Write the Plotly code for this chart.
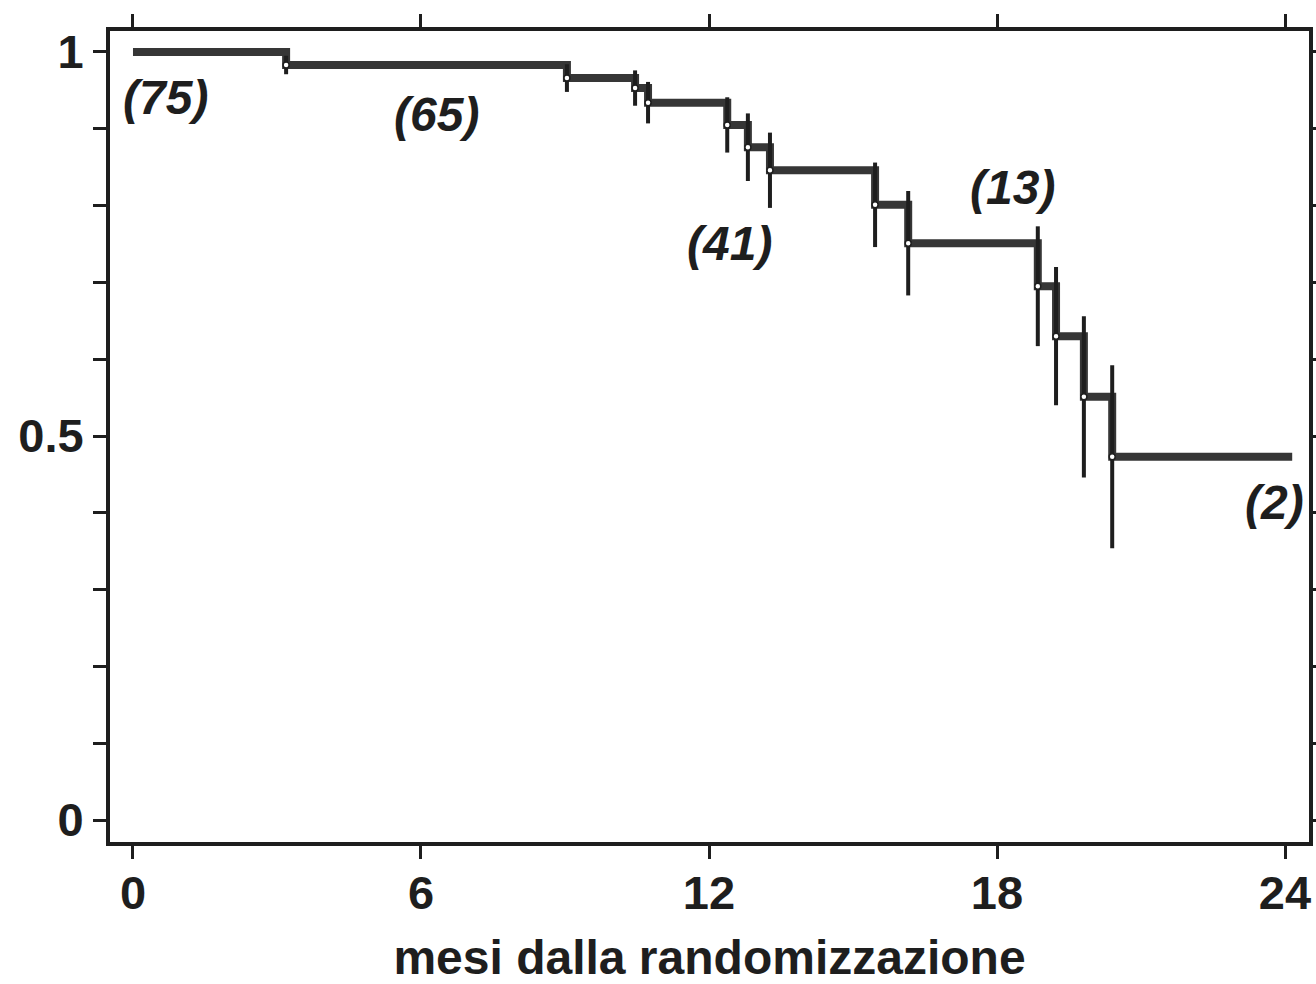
import plotly.graph_objects as go

# Kaplan-Meier estimate: event times (months) and survival after each step
step_times = [0.0, 3.19, 9.04, 10.46, 10.73, 12.38, 12.81, 13.27, 15.46, 16.15, 18.85, 19.23, 19.81, 20.40]
step_surv = [1.0, 0.983, 0.966, 0.953, 0.934, 0.905, 0.876, 0.846, 0.801, 0.751, 0.695, 0.630, 0.551, 0.473]
followup_end = 24.15

# Half-width of the confidence interval at each event
ci_half = [0.012, 0.018, 0.023, 0.027, 0.036, 0.044, 0.049, 0.055, 0.068, 0.078, 0.090, 0.105, 0.119]

# Numbers at risk written along the curve
risk_labels = ["(75)", "(65)", "(41)", "(13)", "(2)"]
risk_x = [0.67, 6.33, 12.42, 18.33, 23.79]
risk_y = [0.941, 0.918, 0.751, 0.823, 0.414]

x_ticks = [0, 6, 12, 18, 24]
y_ticks = [0, 0.1, 0.2, 0.3, 0.4, 0.5, 0.6, 0.7, 0.8, 0.9, 1.0]
y_ticktext = ["0", "", "", "", "", "0.5", "", "", "", "", "1"]

INK = "#1e1e1e"
LINE = "#363636"
FONT = "Liberation Sans"

fig = go.Figure()

fig.add_trace(go.Scatter(
    x=step_times + [followup_end],
    y=step_surv + [step_surv[-1]],
    mode="lines",
    line=dict(shape="hv", width=8, color=LINE),
    hoverinfo="skip",
    showlegend=False,
))

fig.add_trace(go.Scatter(
    x=step_times[1:],
    y=step_surv[1:],
    mode="markers",
    marker=dict(size=6, color="white", line=dict(color=INK, width=1.5)),
    error_y=dict(type="data", array=ci_half, visible=True,
                 thickness=4, width=0, color=INK),
    showlegend=False,
))

for txt, xv, yv in zip(risk_labels, risk_x, risk_y):
    fig.add_annotation(
        x=xv, y=yv, text=f"<b><i>{txt}</i></b>", showarrow=False,
        font=dict(family=FONT, size=48, color=INK),
        xanchor="center", yanchor="middle",
    )

fig.update_xaxes(
    range=[-0.479, 24.5],
    tickvals=x_ticks,
    ticktext=[str(v) for v in x_ticks],
    ticks="outside", ticklen=13, tickwidth=3, tickcolor=INK,
    showline=True, linewidth=4, linecolor=INK, mirror="ticks",
    showgrid=False, zeroline=False, automargin=False,
    tickfont=dict(family=FONT, size=47, color=INK, weight="bold"),
    ticklabelstandoff=-6,
    title=dict(text="<b>mesi dalla randomizzazione</b>",
               font=dict(family=FONT, size=48, color=INK), standoff=36),
)

fig.update_yaxes(
    range=[-0.0286, 1.0273],
    tickvals=y_ticks,
    ticktext=y_ticktext,
    ticks="outside", ticklen=13, tickwidth=3, tickcolor=INK,
    showline=True, linewidth=4, linecolor=INK, mirror="ticks",
    showgrid=False, zeroline=False, automargin=False,
    tickfont=dict(family=FONT, size=47, color=INK, weight="bold"),
    ticklabelstandoff=0,
)

fig.update_layout(
    width=1316, height=984,
    margin=dict(l=110, r=7, t=31, b=142),
    paper_bgcolor="white", plot_bgcolor="white",
    showlegend=False,
)

fig.write_html("out.html")
